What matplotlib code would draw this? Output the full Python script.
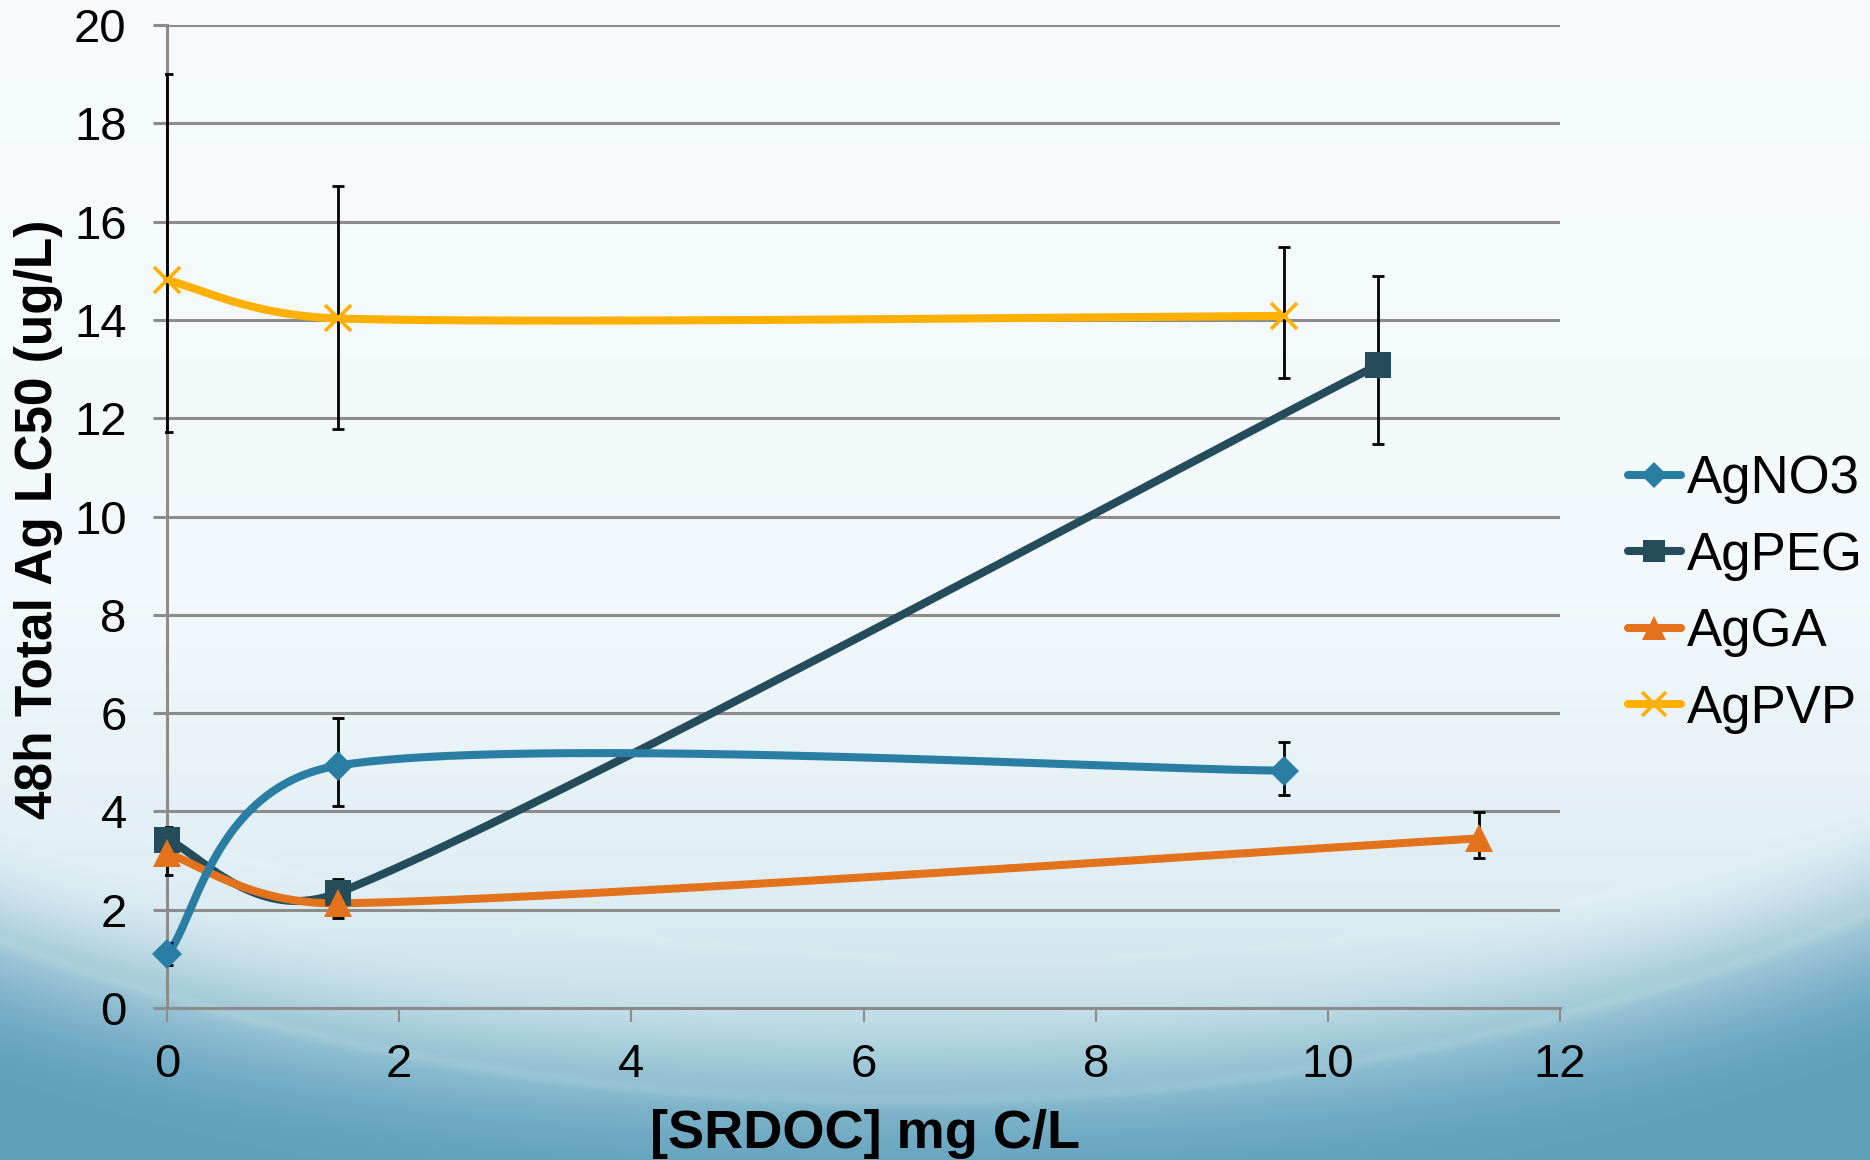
import numpy as np
import matplotlib
matplotlib.use("Agg")
import matplotlib.pyplot as plt
from matplotlib.transforms import Bbox, TransformedBbox

# ---- data -------------------------------------------------------------
series_names = ["AgNO3", "AgPEG", "AgGA", "AgPVP"]

no3_x = [0.0, 1.47, 9.62]
no3_y = [1.09, 4.93, 4.83]
no3_err_lo = [0.21, 0.83, 0.49]
no3_err_hi = [0.23, 0.97, 0.58]

peg_x = [0.0, 1.47, 10.43]
peg_y = [3.42, 2.34, 13.08]
peg_err_lo = [0.25, 0.25, 1.60]
peg_err_hi = [0.27, 0.28, 1.82]

ga_x = [0.0, 1.47, 11.30]
ga_y = [3.15, 2.13, 3.45]
ga_err_lo = [0.44, 0.30, 0.39]
ga_err_hi = [0.45, 0.30, 0.53]

pvp_x = [0.0, 1.47, 9.62]
pvp_y = [14.81, 14.03, 14.08]
pvp_err_lo = [3.09, 2.25, 1.26]
pvp_err_hi = [4.19, 2.69, 1.41]

x_ticks = [0, 2, 4, 6, 8, 10, 12]
y_ticks = [0, 2, 4, 6, 8, 10, 12, 14, 16, 18, 20]

colors = ["#2b7ea3", "#244c5b", "#e2721c", "#ffb000"]
markers = ["D", "s", "^", "x"]
marker_sizes = [15, 19, 20, 19]

W, H = 1870, 1160
left, right, top, bottom = 167, 1560, 25, 1008

# ---- background -------------------------------------------------------
Y, X = np.mgrid[0:H, 0:W].astype(float)


def smoothstep(a, b, v):
    t = np.clip((v - a) / (b - a), 0, 1)
    return t * t * (3 - 2 * t)


# vertical wash: near-white at the top, soft blue toward the bottom
stops_y = [0, 600, 900, 1008, 1090, 1160]
stops_r = [0.967, 0.950, 0.870, 0.780, 0.650, 0.520]
stops_g = [0.982, 0.975, 0.930, 0.880, 0.810, 0.720]
stops_b = [0.993, 0.985, 0.955, 0.910, 0.860, 0.790]
col = np.arange(H, dtype=float)
wash = np.stack([np.interp(col, stops_y, s) for s in (stops_r, stops_g, stops_b)], axis=1)
base = np.broadcast_to(wash[:, None, :], (H, W, 3))

dark = np.array([0.38, 0.63, 0.74])
d = np.sqrt(((X - 900) / 2003) ** 2 + ((Y + 400) / 1500) ** 2)
e = smoothstep(0.93, 1.09, d)[..., None]
img = base * (1 - e) + dark * e
# faint light swooshes along the arc
for cx, cy, rx, ry, a in [(900, -400, 2003, 1500, 0.10), (1000, -600, 2150, 1560, 0.07)]:
    dd = np.sqrt(((X - cx) / rx) ** 2 + ((Y - cy) / ry) ** 2)
    band = np.exp(-((dd - 1.0) / 0.004) ** 2)[..., None]
    img = img * (1 - a * band) + a * band
img = np.clip(img, 0, 1)

fig = plt.figure(figsize=(W / 100, H / 100), dpi=100)
bg = fig.add_axes([0, 0, 1, 1], zorder=-10)
bg.imshow(img, aspect="auto", extent=(0, W, H, 0), interpolation="bilinear")
bg.set_xlim(0, W)
bg.set_ylim(H, 0)
bg.axis("off")

# ---- main axes --------------------------------------------------------
ax = fig.add_axes([left / W, (H - bottom) / H, (right - left) / W, (bottom - top) / H])
ax.patch.set_alpha(0)
ax.set_xlim(0, 12)
ax.set_ylim(0, 20)

grid_c = "#8c8c8c"
ax.set_yticks(y_ticks)
ax.set_xticks(x_ticks)
ax.yaxis.grid(True, color=grid_c, lw=2.2, zorder=0)
ax.set_axisbelow(True)
for s in ["top", "right"]:
    ax.spines[s].set_visible(False)
for s in ["left", "bottom"]:
    ax.spines[s].set_color(grid_c)
    ax.spines[s].set_linewidth(2.2)
    ax.spines[s].set_zorder(0.5)

font = "Liberation Sans"
ax.tick_params(axis="y", direction="out", length=10, width=2.2, color=grid_c,
               pad=19, labelsize=34)
ax.tick_params(axis="x", direction="out", length=10, width=1.5, color=grid_c,
               pad=15, labelsize=34)
for lab in ax.get_xticklabels() + ax.get_yticklabels():
    lab.set_fontfamily(font)

ax.set_xlabel("[SRDOC] mg C/L", fontsize=39, fontweight="bold", family=font)
ax.xaxis.set_label_coords((865 - left) / (right - left), -(1148 - bottom) / (bottom - top))
ax.xaxis.label.set_va("baseline")
ax.set_ylabel("48h Total Ag LC50 (ug/L)", fontsize=37, fontweight="bold", family=font)
ax.yaxis.set_label_coords(-(left - 39) / (right - left), (bottom - 519) / (bottom - top))
ax.yaxis.label.set_va("center")

# pixel scale of the data axes, used for the curve smoothing
sx = (right - left) / 12.0
sy = (bottom - top) / 20.0


def smooth_path(xs, ys, n=80):
    """Bezier smoothing with tangent lengths limited to half the segment length."""
    P = np.column_stack([np.asarray(xs) * sx, np.asarray(ys) * sy]).astype(float)
    m = len(P)
    out = [P[0]]
    for i in range(m - 1):
        p0 = P[i - 1] if i > 0 else P[i]
        p1, p2 = P[i], P[i + 1]
        p3 = P[i + 2] if i + 2 < m else P[i + 1]
        d12 = np.hypot(*(p2 - p1))
        d02 = np.hypot(*(p2 - p0))
        d13 = np.hypot(*(p3 - p1))
        f0 = 1 / 6 if d02 / 6 < d12 / 2 else d12 / (2 * d02)
        f3 = 1 / 6 if d13 / 6 < d12 / 2 else d12 / (2 * d13)
        c1 = p1 + (p2 - p0) * f0
        c2 = p2 - (p3 - p1) * f3
        t = np.linspace(0, 1, n)[1:, None]
        seg = ((1 - t) ** 3) * p1 + 3 * ((1 - t) ** 2) * t * c1 \
            + 3 * (1 - t) * t ** 2 * c2 + t ** 3 * p2
        out.extend(seg)
    out = np.array(out)
    return out[:, 0] / sx, out[:, 1] / sy


clip_bb = TransformedBbox(Bbox([[-0.0012, -0.01], [1.0, 1.0]]), ax.transAxes)

data = [
    (no3_x, no3_y, no3_err_lo, no3_err_hi),
    (peg_x, peg_y, peg_err_lo, peg_err_hi),
    (ga_x, ga_y, ga_err_lo, ga_err_hi),
    (pvp_x, pvp_y, pvp_err_lo, pvp_err_hi),
]
line_z = [4.2, 3.0, 3.5, 4.0]

handles = []
for i, (xs, ys, elo, ehi) in enumerate(data):
    c = colors[i]
    cx_, cy_ = smooth_path(xs, ys)
    ax.plot(cx_, cy_, color=c, lw=5.8, solid_capstyle="round", zorder=line_z[i],
            clip_on=False)
    eb = ax.errorbar(xs, ys, yerr=[elo, ehi], fmt="none", ecolor="black",
                     elinewidth=2, capsize=4.3, capthick=2, zorder=5)
    for art in list(eb.lines[1]) + list(eb.lines[2]):
        art.set_clip_on(True)
        art.set_clip_box(clip_bb)
    mk = markers[i]
    mew = 2.6 if mk == "x" else 0
    ax.plot(xs, ys, ls="none", marker=mk, ms=marker_sizes[i], mew=mew,
            color=c, zorder=6 + i, clip_on=False)
    h, = ax.plot([], [], color=c, lw=5.8, solid_capstyle="round", marker=mk,
                 ms=marker_sizes[i] * (0.85 if mk != "x" else 0.9), mew=mew)
    handles.append(h)

leg = fig.legend(handles, series_names, loc="center left",
                 bbox_to_anchor=(1628 / W, 1 - 594 / H), bbox_transform=fig.transFigure,
                 frameon=False, handlelength=1.0, handletextpad=0.12,
                 labelspacing=0.5, borderpad=0, borderaxespad=0,
                 prop={"family": font, "size": 38})

fig.savefig("out.png", dpi=100)
